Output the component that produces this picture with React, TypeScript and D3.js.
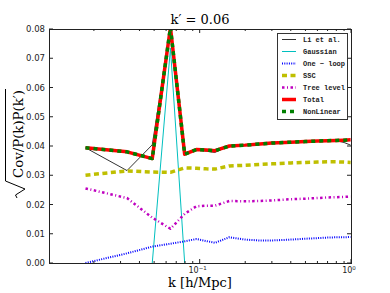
import React from 'react';
import * as d3 from 'd3';

// k bins (h/Mpc)
const kValues = [0.0176, 0.0331, 0.0486, 0.0641, 0.0796, 0.0951, 0.1106, 0.1261, 0.1571, 0.2, 0.25, 0.3, 0.4, 0.5, 0.6, 0.7, 0.8, 0.9, 0.994];

const liEtAl = [0.0394, 0.0316, 0.0404, 0.0800, 0.0372, 0.0388, 0.0382, 0.0378, 0.0400, 0.0403, 0.0407, 0.0410, 0.0413, 0.0415, 0.0417, 0.0418, 0.0418, 0.0412, 0.0403];
const oneLoop = [0.0000, 0.0033, 0.0056, 0.0066, 0.0074, 0.0082, 0.0075, 0.0069, 0.0088, 0.0080, 0.0077, 0.0077, 0.0080, 0.0083, 0.0085, 0.0087, 0.0088, 0.0088, 0.0089];
const ssc = [0.0300, 0.0315, 0.0311, 0.0310, 0.0325, 0.0324, 0.0322, 0.0321, 0.0332, 0.0334, 0.0337, 0.0339, 0.0342, 0.0344, 0.0345, 0.0346, 0.0346, 0.0345, 0.0344];
const treeLevel = [0.0255, 0.0222, 0.0155, 0.0117, 0.0168, 0.0194, 0.0196, 0.0196, 0.0212, 0.0211, 0.0212, 0.0214, 0.0218, 0.0220, 0.0222, 0.0224, 0.0225, 0.0226, 0.0227];
const total = [0.0394, 0.0380, 0.0357, 0.0805, 0.0372, 0.0388, 0.0386, 0.0384, 0.0400, 0.0403, 0.0407, 0.0410, 0.0413, 0.0415, 0.0417, 0.0418, 0.0419, 0.0420, 0.0421];
const nonLinear = total;

// gaussian term is only non-zero around k = k'
const gaussK = [0.0486, 0.0641, 0.0796];
const gaussian = [0.0, 0.0734, 0.0];

const yTicks = [0, 0.01, 0.02, 0.03, 0.04, 0.05, 0.06, 0.07, 0.08];
const xMajor = [0.1, 1];
const xMinor = [0.02, 0.03, 0.04, 0.05, 0.06, 0.07, 0.08, 0.09, 0.2, 0.3, 0.4, 0.5, 0.6, 0.7, 0.8, 0.9];

type Series = {
  label: string;
  k: number[];
  v: number[];
  color: string;
  width: number;
  dash?: string;
};

const series: Series[] = [
  { label: 'Li et al.', k: kValues, v: liEtAl, color: '#333333', width: 1 },
  { label: 'Gaussian', k: gaussK, v: gaussian, color: '#00bfbf', width: 1 },
  { label: 'One \u2212 loop', k: kValues, v: oneLoop, color: '#0000ff', width: 2, dash: '1,1.3' },
  { label: 'SSC', k: kValues, v: ssc, color: '#bfbf00', width: 3.5, dash: '5,3.5' },
  { label: 'Tree level', k: kValues, v: treeLevel, color: '#bf00bf', width: 2.5, dash: '2.5,2.5,1,2.5' },
  { label: 'Total', k: kValues, v: total, color: '#ff0000', width: 3.5 },
  { label: 'NonLinear', k: kValues, v: nonLinear, color: '#008000', width: 3.5, dash: '4,4' },
];

const W = 390, H = 293;
const L = 49, R = 351, T = 29, B = 263;

export default function App() {
  const x = d3.scaleLog().domain([0.0101, 1]).range([L, R]);
  const y = d3.scaleLinear().domain([0, 0.08]).range([B, T]);

  const line = (s: Series) =>
    d3.line<number>()
      .x((_, i) => x(s.k[i]))
      .y(d => y(d))(s.v) || '';

  const tickFont = '"DejaVu Sans", sans-serif';
  const serif = '"DejaVu Serif", "Liberation Serif", serif';

  return (
    <svg width={W} height={H} style={{ position: 'absolute', left: 0, top: 0, background: '#fff' }}>
      <defs>
        <clipPath id="plot">
          <rect x={L} y={T} width={R - L} height={B - T} />
        </clipPath>
      </defs>
      <rect x={0} y={0} width={W} height={H} fill="#fff" />

      {/* data */}
      <g clipPath="url(#plot)">
        {series.map(s => (
          <path key={s.label} d={line(s)} fill="none" stroke={s.color}
            strokeWidth={s.width} strokeDasharray={s.dash} strokeLinejoin="round" />
        ))}
      </g>

      {/* frame */}
      <rect x={L + 0.5} y={T + 0.5} width={R - L} height={B - T} fill="none" stroke="#222" strokeWidth={1} />

      {/* y ticks */}
      {yTicks.map(t => (
        <g key={t}>
          <line x1={L} x2={L + 4} y1={y(t)} y2={y(t)} stroke="#222" />
          <line x1={R - 4} x2={R} y1={y(t)} y2={y(t)} stroke="#222" />
          <text x={L - 4} y={y(t)} textAnchor="end" dominantBaseline="central"
            fontFamily={tickFont} fontSize={8.5} fill="#222">{t.toFixed(2)}</text>
        </g>
      ))}

      {/* x ticks */}
      {xMajor.map(t => (
        <g key={t}>
          <line x1={x(t)} x2={x(t)} y1={B} y2={B - 4} stroke="#222" />
          <line x1={x(t)} x2={x(t)} y1={T} y2={T + 4} stroke="#222" />
          <text x={x(t) - 2} y={273} textAnchor="middle" fontFamily={tickFont} fontSize={8} fill="#222">
            10<tspan dy={-3.5} fontSize={5.5}>{t === 1 ? '0' : '\u22121'}</tspan>
          </text>
        </g>
      ))}
      {xMinor.map(t => (
        <g key={t}>
          <line x1={x(t)} x2={x(t)} y1={B} y2={B - 2} stroke="#222" />
          <line x1={x(t)} x2={x(t)} y1={T} y2={T + 2} stroke="#222" />
        </g>
      ))}

      {/* title */}
      <text x={200} y={24} textAnchor="middle" fontFamily={serif} fontSize={13} fill="#000">
        k{'\u2032'} = 0.06
      </text>

      {/* x label */}
      <text x={200} y={287} textAnchor="middle" fontFamily={serif} fontSize={13} fill="#000">
        k [h/Mpc]
      </text>

      {/* y label with square root */}
      <g transform="translate(23,146) rotate(-90)">
        <path d="M -52,-6 L -49,-7.5 L -43,2 L -35,-17.5 L 57,-17.5" fill="none" stroke="#000" strokeWidth={1} />
        <text x={-32} y={0} fontFamily={serif} fontSize={13} fill="#000"
          textLength={88} lengthAdjust="spacingAndGlyphs">
          Cov/P(k)P(k{'\u2032'})
        </text>
      </g>

      {/* legend */}
      <rect x={277.5} y={33.5} width={70} height={86} fill="#fff" stroke="#333" strokeWidth={1} />
      {series.map((s, i) => {
        const ly = 39.5 + 12 * i;
        return (
          <g key={s.label}>
            <line x1={282} x2={296} y1={ly} y2={ly} stroke={s.color}
              strokeWidth={s.width} strokeDasharray={s.dash} />
            <text x={303} y={ly + 2.5} fontFamily='"Liberation Mono", monospace' fontSize={7}
              fontWeight="bold" fill="#222">
              {s.label}
            </text>
          </g>
        );
      })}
    </svg>
  );
}
